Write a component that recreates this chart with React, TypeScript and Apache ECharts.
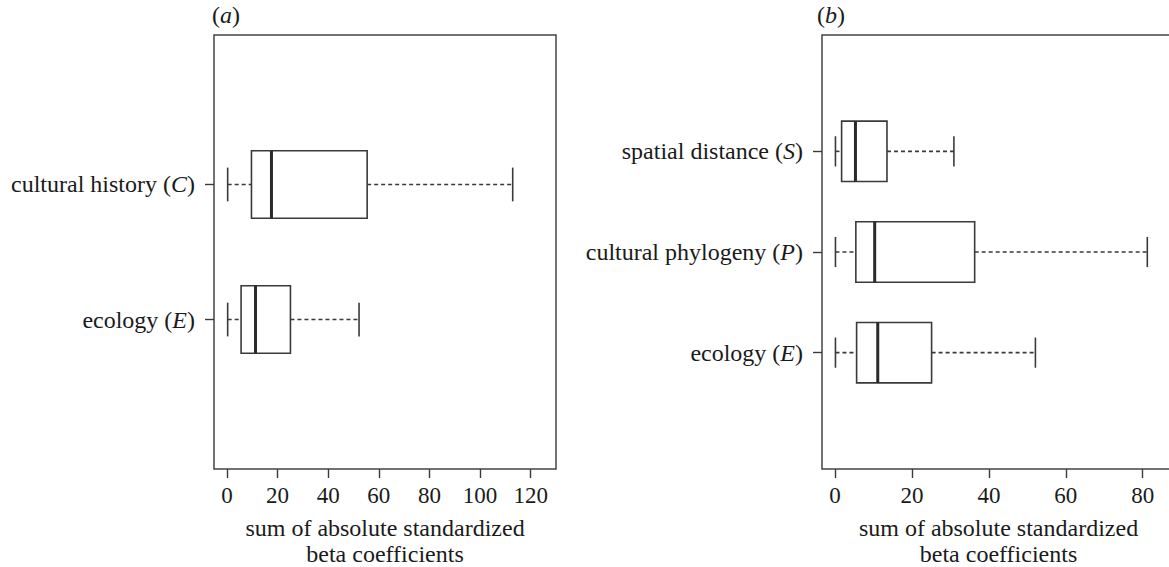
import React, { useEffect, useRef } from "react";
import * as echarts from "echarts";

// ---- Panel (a) data ----
const aNames = ["ecology", "cultural history"];
const aLetters = ["E", "C"];
const aMin = [0.3, 0.3];
const aQ1 = [5.6, 9.7];
const aMed = [11.3, 17.6];
const aQ3 = [25.1, 55.4];
const aMax = [52.2, 112.9];
const aTicks = [0, 20, 40, 60, 80, 100, 120];

// ---- Panel (b) data ----
const bNames = ["ecology", "cultural phylogeny", "spatial distance"];
const bLetters = ["E", "P", "S"];
const bMin = [0.1, 0.1, 0.1];
const bQ1 = [5.6, 5.4, 1.7];
const bMed = [11.1, 10.3, 5.3];
const bQ3 = [25.1, 36.3, 13.5];
const bMax = [52.1, 81.2, 30.9];
const bTicks = [0, 20, 40, 60, 80];

const axisTitle = "sum of absolute standardized\nbeta coefficients";

const FONT = "Liberation Serif";
const LINE = "#3a3a3a";
const TEXT = "#1a1a1a";

const rich = {
  n: { fontFamily: FONT, fontSize: 24, color: TEXT, fontWeight: "normal" },
  i: { fontFamily: FONT, fontSize: 24, color: TEXT, fontStyle: "italic", fontWeight: "normal" },
};

function makeRender(half: number) {
  return (params: any, api: any) => {
    const pos = api.value(0);
    const mn = api.value(1);
    const q1 = api.value(2);
    const md = api.value(3);
    const q3 = api.value(4);
    const mx = api.value(5);
    const c = (x: number, y: number) => api.coord([x, y]);
    const yc = c(mn, pos)[1];
    const yTop = c(mn, pos + half)[1];
    const yBot = c(mn, pos - half)[1];
    const cTop = c(mn, pos + half / 2)[1];
    const cBot = c(mn, pos - half / 2)[1];
    const xMin = c(mn, pos)[0];
    const xQ1 = c(q1, pos)[0];
    const xMed = c(md, pos)[0];
    const xQ3 = c(q3, pos)[0];
    const xMax = c(mx, pos)[0];
    const dashed = { stroke: LINE, lineWidth: 1.6, lineDash: [4, 3], fill: null };
    const solid = { stroke: LINE, lineWidth: 1.6, fill: null };
    return {
      type: "group",
      children: [
        { type: "line", shape: { x1: xMin, y1: yc, x2: xQ1, y2: yc }, style: dashed },
        { type: "line", shape: { x1: xQ3, y1: yc, x2: xMax, y2: yc }, style: dashed },
        { type: "line", shape: { x1: xMin, y1: cTop, x2: xMin, y2: cBot }, style: solid },
        { type: "line", shape: { x1: xMax, y1: cTop, x2: xMax, y2: cBot }, style: solid },
        {
          type: "rect",
          shape: { x: xQ1, y: yTop, width: xQ3 - xQ1, height: yBot - yTop },
          style: { stroke: LINE, lineWidth: 1.6, fill: "#fff" },
        },
        { type: "line", shape: { x1: xMed, y1: yTop, x2: xMed, y2: yBot }, style: { stroke: "#2a2a2a", lineWidth: 3 } },
      ],
    };
  };
}

function rows(mins: number[], q1: number[], med: number[], q3: number[], max: number[]) {
  return mins.map((_, i) => [i + 1, mins[i], q1[i], med[i], q3[i], max[i]]);
}

export default function App() {
  const ref = useRef<HTMLDivElement>(null);
  useEffect(() => {
    if (!ref.current) return;
    const chart = echarts.init(ref.current, null, { renderer: "svg" });
    const xAxisBase = (min: number, max: number, ticks: number[], gridIndex: number) => ({
      type: "value",
      gridIndex,
      min,
      max,
      position: "bottom",
      splitLine: { show: false },
      axisLine: { show: false, onZero: false },
      axisTick: { show: true, length: 9, customValues: ticks, lineStyle: { color: LINE, width: 1.4 } },
      axisLabel: {
        customValues: ticks,
        margin: 15,
        fontFamily: FONT,
        fontSize: 23,
        color: TEXT,
      },
      name: axisTitle,
      nameLocation: "middle",
      nameGap: 46,
      nameTextStyle: { fontFamily: FONT, fontSize: 24, color: TEXT, lineHeight: 26 },
    });
    const yAxisBase = (min: number, max: number, names: string[], letters: string[], gridIndex: number) => {
      const vals = names.map((_, i) => i + 1);
      return {
        type: "value",
        gridIndex,
        min,
        max,
        position: "left",
        splitLine: { show: false },
        axisLine: { show: false, onZero: false },
        axisTick: { show: true, length: 9, customValues: vals, lineStyle: { color: LINE, width: 1.4 } },
        axisLabel: {
          customValues: vals,
          margin: 19,
          formatter: (v: number) => {
            const i = Math.round(v) - 1;
            return `{n|${names[i]} (}{i|${letters[i]}}{n|)}`;
          },
          rich,
        },
      };
    };
    const gridBase = { top: 35, height: 434, show: true, borderColor: "#444", borderWidth: 1.5, backgroundColor: "transparent", containLabel: false, outerBoundsMode: "none" };
    chart.setOption({
      animation: false,
      backgroundColor: "#fff",
      title: [
        { text: "{n|(}{i|a}{n|)}", left: 212, top: 3, padding: 0, textStyle: { rich, fontWeight: "normal" } },
        { text: "{n|(}{i|b}{n|)}", left: 817, top: 3, padding: 0, textStyle: { rich, fontWeight: "normal" } },
      ],
      grid: [
        { ...gridBase, left: 214, width: 342 },
        { ...gridBase, left: 822, width: 353 },
      ],
      xAxis: [xAxisBase(-5.1, 130, aTicks, 0), xAxisBase(-3.4, 88.4, bTicks, 1)],
      yAxis: [yAxisBase(-0.107, 3.107, aNames, aLetters, 0), yAxisBase(-0.156, 4.156, bNames, bLetters, 1)],
      series: [
        {
          type: "custom",
          xAxisIndex: 0,
          yAxisIndex: 0,
          renderItem: makeRender(0.25),
          encode: { x: [1, 2, 3, 4, 5], y: 0 },
          data: rows(aMin, aQ1, aMed, aQ3, aMax),
        },
        {
          type: "custom",
          xAxisIndex: 1,
          yAxisIndex: 1,
          renderItem: makeRender(0.3),
          encode: { x: [1, 2, 3, 4, 5], y: 0 },
          data: rows(bMin, bQ1, bMed, bQ3, bMax),
        },
      ],
    });
    return () => chart.dispose();
  }, []);
  return (
    <div
      ref={ref}
      style={{ position: "fixed", left: 0, top: 0, width: 1169, height: 567, background: "#fff" }}
    />
  );
}
